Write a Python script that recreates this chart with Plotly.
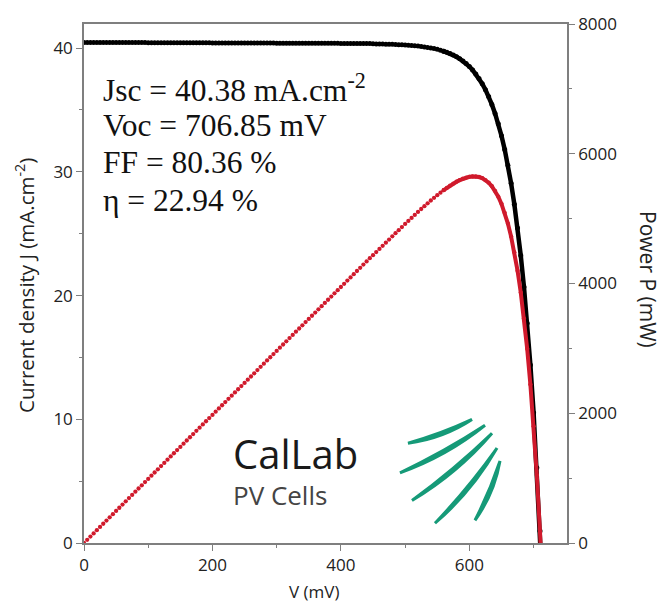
import math
import plotly.graph_objects as go

# ---------------- data ----------------
voltage_mV = list(range(0, 720, 5))  # 0 ... 715 mV, 5 mV steps

current_density = (
    [40.46] * 10 + [40.45] * 10 + [40.44] * 10 + [40.43] * 10 + [40.42] * 10 +
    [40.41] * 10 + [40.40] * 10 + [40.39] * 10 + [40.38] * 10 + [40.35] +
    [40.34, 40.34, 40.33, 40.32, 40.31, 40.31, 40.30, 40.28, 40.27, 40.26,
     40.24, 40.22, 40.19, 40.17, 40.14, 40.10, 40.06, 40.02, 39.96, 39.90,
     39.83, 39.75, 39.66, 39.56, 39.44, 39.30, 39.14, 38.96, 38.75, 38.51,
     38.23, 37.91, 37.55, 37.13, 36.64, 36.09, 35.45, 34.72, 33.88, 32.92,
     31.81, 30.54, 29.07, 27.39, 25.46, 23.24, 20.69, 17.76, 14.39, 10.53,
     6.08, 0.97, -4.90]
)
cell_area_cm2 = 244.3
power_mW = [j * v * cell_area_cm2 / 1000.0 for j, v in zip(current_density, voltage_mV)]

result_lines = ["Jsc = 40.38 mA.cm<sup>-2</sup>", "Voc = 706.85 mV", "FF = 80.36 %", "η = 22.94 %"]
x_ticks = [0, 200, 400, 600]
y_ticks = [0, 10, 20, 30, 40]
y2_ticks = [0, 2000, 4000, 6000, 8000]

# ---------------- geometry helpers ----------------
W, H = 661, 602
L, R, T, B = 84, 567, 18, 543


def px(x):
    return (x - L) / (R - L)


def py(y):
    return (B - y) / (B - T)


BLACK = "#000000"
RED = "#d01a2c"
GREEN = "#159a78"
AXIS = "#7f7f7f"
split = voltage_mV.index(560)

fig = go.Figure()
# J-V curve (black)
fig.add_trace(go.Scatter(x=voltage_mV[:split + 1], y=current_density[:split + 1], mode="markers",
                         marker=dict(color=BLACK, size=5), yaxis="y", showlegend=False))
fig.add_trace(go.Scatter(x=voltage_mV[split:], y=current_density[split:], mode="lines+markers",
                         line=dict(color=BLACK, width=4.5), marker=dict(color=BLACK, size=5),
                         yaxis="y", showlegend=False))
# P-V curve (red)
fig.add_trace(go.Scatter(x=voltage_mV[:split + 1], y=power_mW[:split + 1], mode="markers",
                         marker=dict(color=RED, size=4.3), yaxis="y2", showlegend=False))
fig.add_trace(go.Scatter(x=voltage_mV[split:], y=power_mW[split:], mode="lines+markers",
                         line=dict(color=RED, width=4), marker=dict(color=RED, size=4.3),
                         yaxis="y2", showlegend=False))

tickfont = dict(family="Open Sans", size=17, color="#222222")
common = dict(showline=True, linecolor=AXIS, linewidth=1.5, ticks="outside", ticklen=6,
              tickcolor=AXIS, tickwidth=1.2, showgrid=False, zeroline=False, tickfont=tickfont)

annotations = []
centers = [82.5, 120.5, 158.5, 196.5]
for txt, cy in zip(result_lines, centers):
    annotations.append(dict(text=txt, xref="paper", yref="paper", x=px(101), y=py(cy),
                            xanchor="left", yanchor="middle", showarrow=False,
                            font=dict(family="Liberation Serif", size=31.5, color="#111111")))
annotations += [
    dict(text="CalLab", xref="paper", yref="paper", x=px(231), y=py(452), xanchor="left",
         yanchor="middle", showarrow=False, font=dict(family="Open Sans", size=40, color="#1a1a1a")),
    dict(text="PV Cells", xref="paper", yref="paper", x=px(231), y=py(494), xanchor="left",
         yanchor="middle", showarrow=False, font=dict(family="Open Sans", size=26, color="#444444")),
    dict(text="V (mV)", xref="paper", yref="paper", x=px(314), y=py(592), xanchor="center",
         yanchor="middle", showarrow=False, font=dict(family="Open Sans", size=17, color="#222222")),
    dict(text="Current density J (mA.cm<sup>-2</sup>)", xref="paper", yref="paper", x=px(25), y=py(283),
         xanchor="center", yanchor="middle", textangle=-90, showarrow=False,
         font=dict(family="Open Sans", size=20.5, color="#222222")),
    dict(text="Power P (mW)", xref="paper", yref="paper", x=px(648), y=py(276),
         xanchor="center", yanchor="middle", textangle=90, showarrow=False,
         font=dict(family="Open Sans", size=21, color="#222222")),
]

# logo arcs: curved strokes with slight taper (pixel coords -> paper)
arcs = [((408, 442), (442, 435), (472, 418)),
        ((400, 472), (445.5, 453), (485, 424)),
        ((412, 500), (456, 470.5), (492, 432)),
        ((435, 523), (470.5, 489), (497, 447)),
        ((475, 520), (492, 492), (500, 460))]
thick = 2.5
shapes = []
for (a, c, b) in arcs:
    dx, dy = b[0] - a[0], b[1] - a[1]
    n = math.hypot(dx, dy)
    nx, ny = -dy / n, dx / n
    c1 = (c[0] + nx * thick, c[1] + ny * thick)
    c2 = (c[0] - nx * thick, c[1] - ny * thick)
    path = "M {},{} Q {},{} {},{} Q {},{} {},{} Z".format(
        px(a[0]), py(a[1]), px(c1[0]), py(c1[1]), px(b[0]), py(b[1]),
        px(c2[0]), py(c2[1]), px(a[0]), py(a[1]))
    shapes.append(dict(type="path", xref="paper", yref="paper", path=path,
                       fillcolor=GREEN, line=dict(color=GREEN, width=3)))

fig.update_layout(
    width=W, height=H, margin=dict(l=L, r=W - R, t=T, b=H - B),
    paper_bgcolor="white", plot_bgcolor="white",
    xaxis=dict(range=[0, 752], tickvals=x_ticks, mirror=True,
               minor=dict(dtick=100, ticklen=3, tickcolor=AXIS, ticks="outside"), **common),
    yaxis=dict(range=[0, 41.95], tickvals=y_ticks,
               minor=dict(dtick=5, ticklen=3, tickcolor=AXIS, ticks="outside"), **common),
    yaxis2=dict(range=[0, 8000], tickvals=y2_ticks, overlaying="y", side="right",
                minor=dict(dtick=1000, ticklen=3, tickcolor=AXIS, ticks="outside"), **common),
    annotations=annotations, shapes=shapes,
)

fig.write_html("out.html", config={"displayModeBar": False},
               post_script="document.body.style.margin='0';document.body.style.overflow='hidden';")
